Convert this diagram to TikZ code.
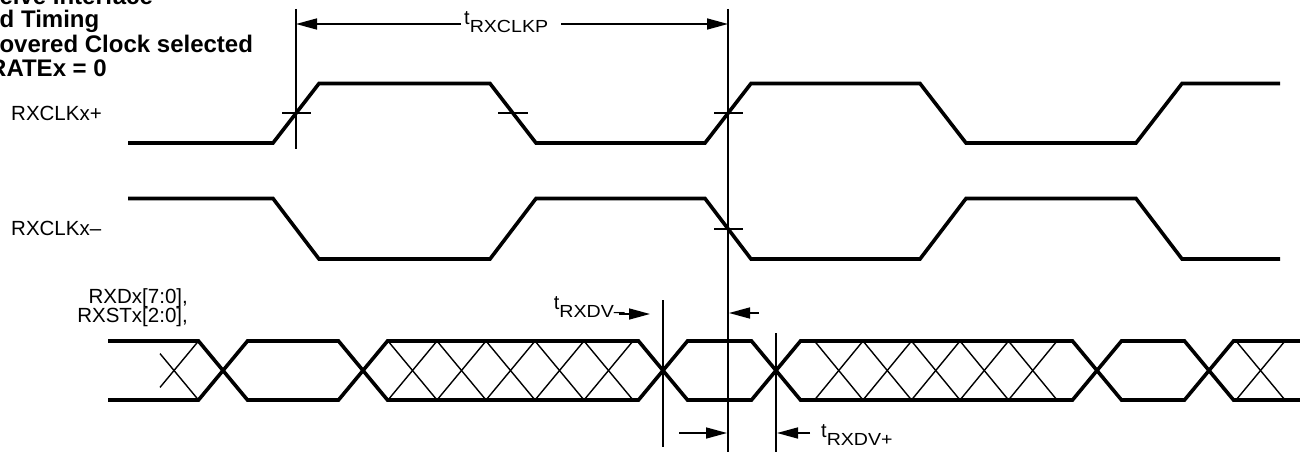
\documentclass[tikz,border=0pt]{standalone}
\usepackage{fontspec}
\setmainfont{Liberation Sans}
\usepackage{graphicx}
\usetikzlibrary{arrows.meta}
\newcommand{\tlbl}[1]{{\fontsize{20}{20}\selectfont t}\raisebox{-8pt}{\scalebox{1.12}[1]{\fontsize{17.5}{17.5}\selectfont #1}}}
\begin{document}
\begin{tikzpicture}[x=1pt,y=-1pt,
  sig/.style={line width=3.6pt},
  hatch/.style={line width=1.4pt},
  refl/.style={line width=1.6pt},
  tickl/.style={line width=1.6pt},
  dim/.style={line width=1.6pt,-{Triangle[length=21pt,width=11pt]}},
  lab/.style={inner sep=0pt,font=\fontsize{20.5}{20.5}\selectfont},
  tlab/.style={inner sep=0pt},
  ttl/.style={inner sep=0pt,anchor=base west,font=\bfseries\fontsize{24}{24}\selectfont}]
\useasboundingbox (0,0) rectangle (1300,452);

% title (cut off at the left and top, as in the reference)
\node[ttl] (ti1) at (-14,5) {ceive Interface};
\node[ttl] (ti2) at (-0.5,28) {d Timing};
\node[ttl] (ti3) at (-14,52.5) {covered Clock selected};
\node[ttl] (ti4) at (-11,77) {RATEx = 0};

% signal names
\node[lab,anchor=base west] (nP) at (11,120) {RXCLKx+};
\node[lab,anchor=base west] (nM) at (11,235) {RXCLKx–};
\node[lab,anchor=base east] (nD) at (188,303) {RXDx[7:0],};
\node[lab,anchor=base east] (nS) at (188,322) {RXSTx[2:0],};

% RXCLKx+
\draw[sig] (128,143) -- (273,143) -- (319,83.5) -- (490,83.5) -- (536,143) -- (705,143)
  -- (751,83.5) -- (920,83.5) -- (966,143) -- (1136,143) -- (1182,83.5) -- (1280,83.5);
% RXCLKx-
\draw[sig] (128,198.5) -- (273,198.5) -- (319,259) -- (490,259) -- (536,198.5) -- (705,198.5)
  -- (751,259) -- (920,259) -- (966,198.5) -- (1136,198.5) -- (1182,259) -- (1280,259);

% ticks at crossing points
\draw[tickl] (282,113) -- (311,113);
\draw[tickl] (498,113) -- (528,113);
\draw[tickl] (714,113) -- (743,113);
\draw[tickl] (714,229) -- (743,229);

% data bus
\draw[sig] (108,341) -- (198.5,341) -- (247.5,400) -- (338.5,400) -- (387.5,341) -- (638.5,341)
  -- (687.5,400) -- (751.5,400) -- (800.5,341) -- (1072.5,341) -- (1121.5,400) -- (1184.5,400)
  -- (1233.5,341) -- (1300,341);
\draw[sig] (108,400) -- (198.5,400) -- (247.5,341) -- (338.5,341) -- (387.5,400) -- (638.5,400)
  -- (687.5,341) -- (751.5,341) -- (800.5,400) -- (1072.5,400) -- (1121.5,341) -- (1184.5,341)
  -- (1233.5,400) -- (1300,400);

% hatching
\draw[hatch] (198.5,341) -- (160,387.4);
\draw[hatch] (198.5,400) -- (160,353.6);
\foreach \i in {0,...,4}{
  \draw[hatch] ({388+49*\i},341) -- ({388+49*(\i+1)},400);
  \draw[hatch] ({388+49*\i},400) -- ({388+49*(\i+1)},341);
  \draw[hatch] ({814.5+48.5*\i},341) -- ({814.5+48.5*(\i+1)},400);
  \draw[hatch] ({814.5+48.5*\i},400) -- ({814.5+48.5*(\i+1)},341);
}
\draw[hatch] (1236,341) -- (1285,400);
\draw[hatch] (1236,400) -- (1285,341);

% reference lines
\draw[refl] (296,9) -- (296,149);
\draw[refl] (728,9) -- (728,452);
\draw[refl] (663,300) -- (663,447);
\draw[refl] (776,333) -- (776,452);

% t_RXCLKP
\coordinate (pL) at (296,24);
\coordinate (pR) at (728,24);
\coordinate (gL) at (461,24);
\coordinate (gR) at (561,24);
\node[tlab,anchor=base west] (lP) at (464,25) {\tlbl{RXCLKP}};
\draw[dim] (gL) -- (pL);
\draw[dim] (gR) -- (pR);

% t_RXDV-
\node[tlab,anchor=base east] (lDm) at (625,309) {\tlbl{RXDV–}};
\coordinate (m1) at (619,314);
\coordinate (m2) at (650,314);
\draw[dim] (m1) -- (m2);
\coordinate (m3) at (759,313);
\coordinate (m4) at (729,313);
\draw[dim] (m3) -- (m4);

% t_RXDV+
\coordinate (b1) at (679,433);
\coordinate (b2) at (727,433);
\coordinate (b3) at (810,433);
\coordinate (b4) at (777,433);
\draw[dim] (b1) -- (b2);
\draw[dim] (b3) -- (b4);
\node[tlab,anchor=base west] (lDp) at (821,437) {\tlbl{RXDV+}};
\end{tikzpicture}
\end{document}
